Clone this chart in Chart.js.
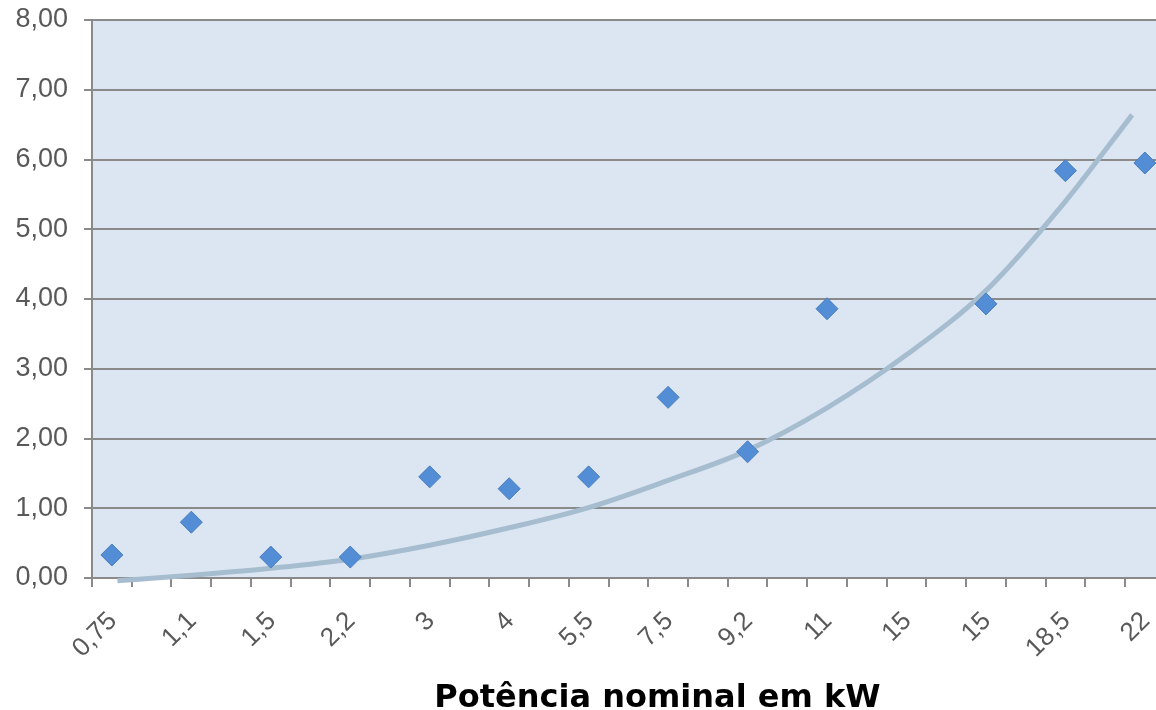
<!DOCTYPE html>
<html>
<head>
<meta charset="utf-8">
<script src="https://cdn.jsdelivr.net/npm/chart.js@4/dist/chart.umd.min.js"></script>
<style>
  html, body { margin: 0; padding: 0; background: #fff; }
  #wrap { width: 1156px; height: 710px; }
</style>
</head>
<body>
<div id="wrap"><canvas id="myChart" width="1156" height="710"></canvas></div>
<script>
const categories = ['0,75', '1,1', '1,5', '2,2', '3', '4', '5,5', '7,5', '9,2', '11', '15', '15', '18,5', '22'];
const values = [0.33, 0.80, 0.30, 0.30, 1.45, 1.28, 1.45, 2.59, 1.81, 3.86, null, 3.93, 5.84, 5.95];

// trend line (x = category position)
const trendX = [0.07, 1, 2, 3, 4, 5, 6, 7, 8, 9, 10, 11, 12, 12.84];
const trendY = [-0.04, 0.04, 0.14, 0.27, 0.47, 0.72, 1.01, 1.40, 1.83, 2.44, 3.20, 4.12, 5.40, 6.64];

const yTickLabels = ['0,00', '1,00', '2,00', '3,00', '4,00', '5,00', '6,00', '7,00', '8,00'];

const xTitle = 'Potência nominal em kW';

let points = [];
for (let i = 0; i < categories.length; i++) {
    if (values[i] !== null) points.push({ x: i, y: values[i] });
}
let trend = trendX.map((x, i) => ({ x: x, y: trendY[i] }));

const gridColor = '#8a8a8a';
const textColor = '#595959';

const ctx = document.getElementById('myChart');

new Chart(ctx, {
    type: 'scatter',
    data: {
        datasets: [{
            label: 'valores',
            data: points,
            pointStyle: 'rectRot',
            pointRadius: 11,
            pointHoverRadius: 11,
            backgroundColor: '#538dd5',
            borderColor: '#4a7ebf',
            borderWidth: 1,
            clip: false,
            order: 1
        },
        {
            label: 'tendência',
            type: 'line',
            data: trend,
            showLine: true,
            pointRadius: 0,
            borderColor: '#a6bdd0',
            borderWidth: 5,
            cubicInterpolationMode: 'monotone',
            fill: false,
            clip: false,
            order: 2
        }]
    },
    options: {
        responsive: false,
        animation: false,
        layout: { autoPadding: false, padding: { top: 20, right: 0, left: 0, bottom: 0 } },
        plugins: {
            legend: { display: false },
            tooltip: { enabled: false }
        },
        scales: {
            x: {
                type: 'linear',
                min: -0.25,
                max: 13.14,
                afterBuildTicks: function (scale) {
                    let t = [];
                    for (let k = 0; k < 28; k++) {
                        t.push({ value: -0.25 + k * 0.5 });
                        if (k % 2 === 0 && k / 2 < categories.length) t.push({ value: k / 2 });
                    }
                    t.sort((a, b) => a.value - b.value);
                    scale.ticks = t.filter(v => v.value <= 13.14);
                },
                afterFit: function (scale) {
                    scale.height = 132;
                    scale.paddingLeft = 0;
                    scale.paddingRight = 0;
                },
                grid: {
                    drawOnChartArea: false,
                    drawTicks: true,
                    tickLength: 9,
                    lineWidth: 2,
                    tickColor: function (c) {
                        return Number.isInteger(c.tick.value) ? 'rgba(0,0,0,0)' : gridColor;
                    }
                },
                border: { display: true, color: gridColor, width: 2 },
                ticks: {
                    autoSkip: false,
                    minRotation: 45,
                    maxRotation: 45,
                    padding: 19,
                    labelOffset: 1,
                    color: textColor,
                    font: { family: 'Liberation Sans', size: 26 },
                    callback: function (value) {
                        return Number.isInteger(value) ? categories[value] : '';
                    }
                },
                title: {
                    display: true,
                    text: '      ' + xTitle,
                    color: '#000',
                    font: { family: 'DejaVu Sans', size: 32, weight: 'bold', lineHeight: 0.7 },
                    padding: { top: 0, bottom: 0 }
                }
            },
            y: {
                min: 0,
                max: 8,
                afterFit: function (scale) {
                    scale.width = 92;
                    scale.paddingTop = 0;
                    scale.paddingBottom = 0;
                },
                grid: {
                    color: gridColor,
                    lineWidth: 2,
                    tickLength: 8
                },
                border: { display: true, color: gridColor, width: 2 },
                ticks: {
                    stepSize: 1,
                    padding: 16,
                    color: textColor,
                    font: { family: 'Liberation Sans', size: 27 },
                    callback: function (value) {
                        return yTickLabels[value];
                    }
                }
            }
        }
    },
    plugins: [{
        id: 'plotBg',
        beforeDraw: function (chart) {
            const a = chart.chartArea;
            chart.ctx.save();
            chart.ctx.fillStyle = '#dce6f2';
            chart.ctx.fillRect(a.left, a.top, a.right - a.left, a.bottom - a.top);
            chart.ctx.restore();
        }
    }]
});
</script>
</body>
</html>
